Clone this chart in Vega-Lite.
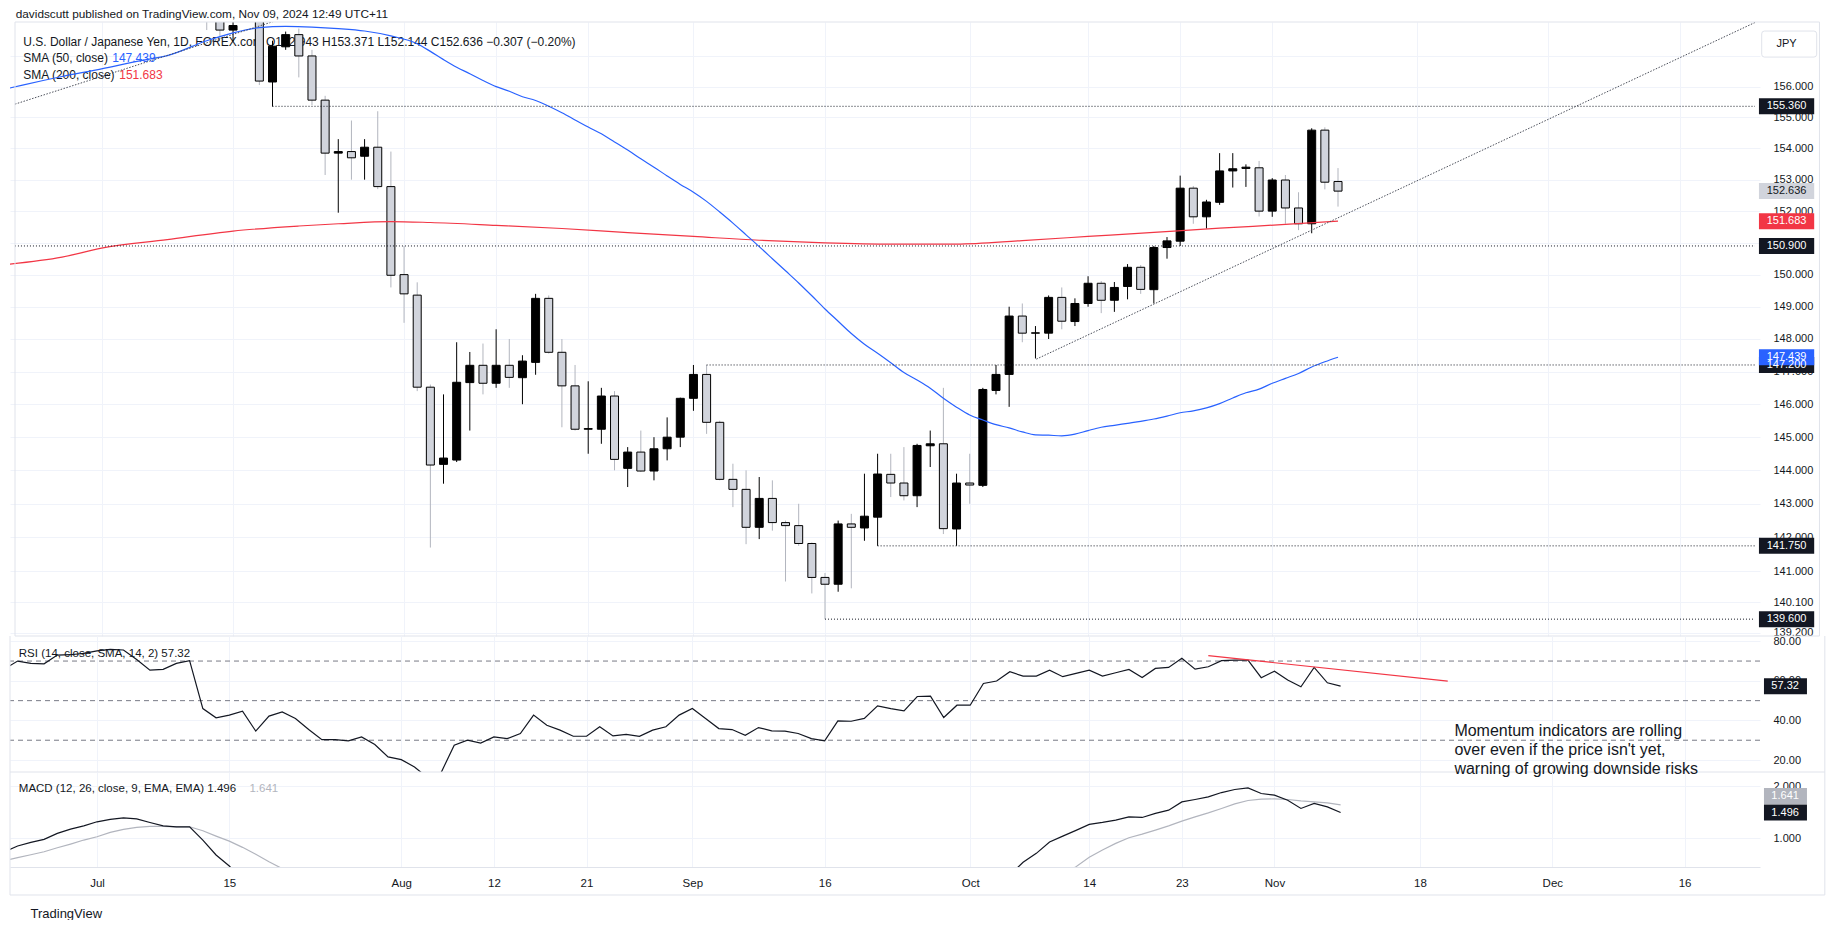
{
  "$schema": "https://vega.github.io/schema/vega-lite/v6.json",
  "background": "#ffffff",
  "padding": {"left": 9, "top": 8, "right": 0, "bottom": 0},
  "autosize": {"type": "pad"},
  "spacing": 0,
  "bounds": "flush",
  "config": {
    "view": {"stroke": null},
    "font": "Liberation Sans",
    "axis": {"zindex": 0, "labelFont": "Liberation Sans", "titleFont": "Liberation Sans"}
  },
  "datasets": {
    "candles": [
      {"i": -6, "d": "2024-06-21", "o": 158.9, "h": 159.9, "l": 158.7, "c": 159.8},
      {"i": -5, "d": "2024-06-24", "o": 159.8, "h": 159.9, "l": 159.3, "c": 159.7},
      {"i": -4, "d": "2024-06-25", "o": 159.7, "h": 159.9, "l": 159.4, "c": 159.75},
      {"i": -3, "d": "2024-06-26", "o": 159.7, "h": 160.9, "l": 159.6, "c": 160.8},
      {"i": -2, "d": "2024-06-27", "o": 160.8, "h": 160.9, "l": 160.3, "c": 160.7},
      {"i": -1, "d": "2024-06-28", "o": 160.7, "h": 161.3, "l": 160.4, "c": 160.9},
      {"i": 0, "d": "2024-07-01", "o": 160.9, "h": 161.7, "l": 160.8, "c": 161.5},
      {"i": 1, "d": "2024-07-02", "o": 161.5, "h": 161.7, "l": 161.2, "c": 161.45},
      {"i": 2, "d": "2024-07-03", "o": 161.45, "h": 161.95, "l": 161.3, "c": 161.4},
      {"i": 3, "d": "2024-07-04", "o": 161.4, "h": 161.5, "l": 161.0, "c": 161.2},
      {"i": 4, "d": "2024-07-05", "o": 161.2, "h": 161.3, "l": 160.2, "c": 160.8},
      {"i": 5, "d": "2024-07-08", "o": 160.75, "h": 161.0, "l": 160.3, "c": 160.8},
      {"i": 6, "d": "2024-07-09", "o": 160.8, "h": 161.3, "l": 160.7, "c": 161.3},
      {"i": 7, "d": "2024-07-10", "o": 161.3, "h": 161.8, "l": 161.2, "c": 161.7},
      {"i": 8, "d": "2024-07-11", "o": 161.7, "h": 161.8, "l": 157.85, "c": 158.9},
      {"i": 9, "d": "2024-07-12", "o": 158.9, "h": 159.4, "l": 157.6, "c": 157.85},
      {"i": 10, "d": "2024-07-15", "o": 157.85, "h": 158.5, "l": 157.47, "c": 158.0},
      {"i": 11, "d": "2024-07-16", "o": 158.2, "h": 158.9, "l": 158.15, "c": 158.4},
      {"i": 12, "d": "2024-07-17", "o": 158.4, "h": 158.6, "l": 156.05, "c": 156.18},
      {"i": 13, "d": "2024-07-18", "o": 156.15, "h": 157.5, "l": 155.35, "c": 157.32},
      {"i": 14, "d": "2024-07-19", "o": 157.3, "h": 157.8, "l": 157.2, "c": 157.7},
      {"i": 15, "d": "2024-07-22", "o": 157.7, "h": 157.9, "l": 156.3, "c": 157.0},
      {"i": 16, "d": "2024-07-23", "o": 157.0, "h": 157.2, "l": 155.4, "c": 155.56},
      {"i": 17, "d": "2024-07-24", "o": 155.56, "h": 155.7, "l": 153.15, "c": 153.85},
      {"i": 18, "d": "2024-07-25", "o": 153.85, "h": 154.3, "l": 151.95, "c": 153.9},
      {"i": 19, "d": "2024-07-26", "o": 153.9, "h": 154.9, "l": 153.0, "c": 153.7},
      {"i": 20, "d": "2024-07-29", "o": 153.75, "h": 154.3, "l": 153.0, "c": 154.04},
      {"i": 21, "d": "2024-07-30", "o": 154.04, "h": 155.2, "l": 152.7, "c": 152.78},
      {"i": 22, "d": "2024-07-31", "o": 152.78, "h": 153.9, "l": 149.6, "c": 149.98},
      {"i": 23, "d": "2024-08-01", "o": 150.0, "h": 150.9, "l": 148.5, "c": 149.4},
      {"i": 24, "d": "2024-08-02", "o": 149.36, "h": 149.76, "l": 146.4, "c": 146.52},
      {"i": 25, "d": "2024-08-05", "o": 146.52, "h": 146.6, "l": 141.7, "c": 144.16},
      {"i": 26, "d": "2024-08-06", "o": 144.18, "h": 146.3, "l": 143.6, "c": 144.37},
      {"i": 27, "d": "2024-08-07", "o": 144.31, "h": 147.9, "l": 144.25, "c": 146.67},
      {"i": 28, "d": "2024-08-08", "o": 146.66, "h": 147.6, "l": 145.2, "c": 147.19},
      {"i": 29, "d": "2024-08-09", "o": 147.19, "h": 147.86, "l": 146.3, "c": 146.64},
      {"i": 30, "d": "2024-08-12", "o": 146.64, "h": 148.3, "l": 146.5, "c": 147.19},
      {"i": 31, "d": "2024-08-13", "o": 147.19, "h": 148.0, "l": 146.5, "c": 146.82},
      {"i": 32, "d": "2024-08-14", "o": 146.81, "h": 147.5, "l": 146.0, "c": 147.32},
      {"i": 33, "d": "2024-08-15", "o": 147.28, "h": 149.4, "l": 146.9, "c": 149.26},
      {"i": 34, "d": "2024-08-16", "o": 149.26, "h": 149.35, "l": 147.55, "c": 147.59},
      {"i": 35, "d": "2024-08-19", "o": 147.59, "h": 148.0, "l": 145.3, "c": 146.56},
      {"i": 36, "d": "2024-08-20", "o": 146.56, "h": 147.2, "l": 145.2, "c": 145.24},
      {"i": 37, "d": "2024-08-21", "o": 145.24, "h": 146.7, "l": 144.5, "c": 145.26},
      {"i": 38, "d": "2024-08-22", "o": 145.24, "h": 146.5, "l": 144.8, "c": 146.25},
      {"i": 39, "d": "2024-08-23", "o": 146.25, "h": 146.4, "l": 144.0, "c": 144.33},
      {"i": 40, "d": "2024-08-26", "o": 144.06, "h": 144.7, "l": 143.5, "c": 144.55},
      {"i": 41, "d": "2024-08-27", "o": 144.55, "h": 145.2, "l": 143.95, "c": 143.98},
      {"i": 42, "d": "2024-08-28", "o": 143.98, "h": 145.0, "l": 143.7, "c": 144.65},
      {"i": 43, "d": "2024-08-29", "o": 144.65, "h": 145.6, "l": 144.3, "c": 145.0},
      {"i": 44, "d": "2024-08-30", "o": 145.0, "h": 146.2, "l": 144.7, "c": 146.18},
      {"i": 45, "d": "2024-09-02", "o": 146.18, "h": 147.2, "l": 145.8, "c": 146.91},
      {"i": 46, "d": "2024-09-03", "o": 146.91, "h": 147.2, "l": 145.1, "c": 145.45},
      {"i": 47, "d": "2024-09-04", "o": 145.45, "h": 145.5, "l": 143.7, "c": 143.73},
      {"i": 48, "d": "2024-09-05", "o": 143.73, "h": 144.2, "l": 142.9, "c": 143.43},
      {"i": 49, "d": "2024-09-06", "o": 143.43, "h": 144.0, "l": 141.8, "c": 142.3},
      {"i": 50, "d": "2024-09-09", "o": 142.3, "h": 143.8, "l": 141.95, "c": 143.16},
      {"i": 51, "d": "2024-09-10", "o": 143.16, "h": 143.7, "l": 142.2, "c": 142.44},
      {"i": 52, "d": "2024-09-11", "o": 142.44, "h": 142.5, "l": 140.7, "c": 142.35},
      {"i": 53, "d": "2024-09-12", "o": 142.35, "h": 143.0, "l": 141.75, "c": 141.82},
      {"i": 54, "d": "2024-09-13", "o": 141.82, "h": 141.85, "l": 140.35, "c": 140.82},
      {"i": 55, "d": "2024-09-16", "o": 140.82, "h": 140.95, "l": 139.6, "c": 140.62},
      {"i": 56, "d": "2024-09-17", "o": 140.62, "h": 142.5, "l": 140.4, "c": 142.4},
      {"i": 57, "d": "2024-09-18", "o": 142.4, "h": 142.7, "l": 140.5, "c": 142.3},
      {"i": 58, "d": "2024-09-19", "o": 142.28, "h": 143.9, "l": 141.9, "c": 142.63},
      {"i": 59, "d": "2024-09-20", "o": 142.6, "h": 144.5, "l": 141.75, "c": 143.89},
      {"i": 60, "d": "2024-09-23", "o": 143.88, "h": 144.5, "l": 143.2, "c": 143.62},
      {"i": 61, "d": "2024-09-24", "o": 143.62, "h": 144.7, "l": 143.1, "c": 143.24},
      {"i": 62, "d": "2024-09-25", "o": 143.24, "h": 144.8, "l": 142.9, "c": 144.75},
      {"i": 63, "d": "2024-09-26", "o": 144.74, "h": 145.2, "l": 144.1, "c": 144.8},
      {"i": 64, "d": "2024-09-27", "o": 144.8, "h": 146.5, "l": 142.1, "c": 142.26},
      {"i": 65, "d": "2024-09-30", "o": 142.25, "h": 143.9, "l": 141.75, "c": 143.62},
      {"i": 66, "d": "2024-10-01", "o": 143.62, "h": 144.5, "l": 143.0, "c": 143.56},
      {"i": 67, "d": "2024-10-02", "o": 143.55, "h": 146.5, "l": 143.5, "c": 146.45},
      {"i": 68, "d": "2024-10-03", "o": 146.42, "h": 147.2, "l": 146.3, "c": 146.91},
      {"i": 69, "d": "2024-10-04", "o": 146.91, "h": 149.0, "l": 145.92, "c": 148.71},
      {"i": 70, "d": "2024-10-07", "o": 148.71, "h": 149.1, "l": 147.9, "c": 148.18},
      {"i": 71, "d": "2024-10-08", "o": 148.18, "h": 148.4, "l": 147.4, "c": 148.19},
      {"i": 72, "d": "2024-10-09", "o": 148.18, "h": 149.35, "l": 148.0, "c": 149.29},
      {"i": 73, "d": "2024-10-10", "o": 149.29, "h": 149.6, "l": 148.3, "c": 148.55},
      {"i": 74, "d": "2024-10-11", "o": 148.54, "h": 149.26, "l": 148.4, "c": 149.1},
      {"i": 75, "d": "2024-10-14", "o": 149.1, "h": 149.95, "l": 149.0, "c": 149.73},
      {"i": 76, "d": "2024-10-15", "o": 149.73, "h": 149.8, "l": 148.8, "c": 149.2},
      {"i": 77, "d": "2024-10-16", "o": 149.2, "h": 149.77, "l": 148.84, "c": 149.6},
      {"i": 78, "d": "2024-10-17", "o": 149.63, "h": 150.33, "l": 149.23, "c": 150.23},
      {"i": 79, "d": "2024-10-18", "o": 150.23, "h": 150.3, "l": 149.4, "c": 149.54},
      {"i": 80, "d": "2024-10-21", "o": 149.53, "h": 150.9, "l": 149.1, "c": 150.85},
      {"i": 81, "d": "2024-10-22", "o": 150.85, "h": 151.18, "l": 150.5, "c": 151.06},
      {"i": 82, "d": "2024-10-23", "o": 151.05, "h": 153.13, "l": 150.9, "c": 152.73},
      {"i": 83, "d": "2024-10-24", "o": 152.73, "h": 152.8, "l": 151.6, "c": 151.82},
      {"i": 84, "d": "2024-10-25", "o": 151.82, "h": 152.36, "l": 151.45, "c": 152.29},
      {"i": 85, "d": "2024-10-28", "o": 152.28, "h": 153.85, "l": 152.2, "c": 153.28},
      {"i": 86, "d": "2024-10-29", "o": 153.28, "h": 153.85, "l": 152.75, "c": 153.35},
      {"i": 87, "d": "2024-10-30", "o": 153.36, "h": 153.49, "l": 152.77, "c": 153.4},
      {"i": 88, "d": "2024-10-31", "o": 153.38, "h": 153.6, "l": 151.83, "c": 152.0},
      {"i": 89, "d": "2024-11-01", "o": 152.0, "h": 153.05, "l": 151.82, "c": 152.99},
      {"i": 90, "d": "2024-11-04", "o": 152.99, "h": 153.15, "l": 151.6, "c": 152.1},
      {"i": 91, "d": "2024-11-05", "o": 152.1, "h": 152.6, "l": 151.4, "c": 151.6},
      {"i": 92, "d": "2024-11-06", "o": 151.6, "h": 154.65, "l": 151.3, "c": 154.59},
      {"i": 93, "d": "2024-11-07", "o": 154.59, "h": 154.68, "l": 152.69, "c": 152.92},
      {"i": 94, "d": "2024-11-08", "o": 152.943, "h": 153.371, "l": 152.144, "c": 152.636}
    ],
    "sma200": [
      {"i": -7, "v": 150.33}, {"i": -3, "v": 150.55}, {"i": 0, "v": 150.83}, {"i": 5, "v": 151.1},
      {"i": 10, "v": 151.37}, {"i": 15, "v": 151.53}, {"i": 18, "v": 151.6}, {"i": 22, "v": 151.67},
      {"i": 25, "v": 151.64}, {"i": 30, "v": 151.55}, {"i": 35, "v": 151.45}, {"i": 40, "v": 151.32},
      {"i": 45, "v": 151.2}, {"i": 50, "v": 151.08}, {"i": 55, "v": 151.0}, {"i": 60, "v": 150.96},
      {"i": 65, "v": 150.96}, {"i": 70, "v": 151.07}, {"i": 75, "v": 151.2}, {"i": 80, "v": 151.33},
      {"i": 85, "v": 151.46}, {"i": 90, "v": 151.58}, {"i": 94, "v": 151.683}
    ],
    "sma50": [
      {"i": -7, "v": 155.95}, {"i": -6, "v": 156.05}, {"i": -3, "v": 156.33}, {"i": 0, "v": 156.58},
      {"i": 3, "v": 156.85}, {"i": 5, "v": 157.01}, {"i": 8, "v": 157.5}, {"i": 10, "v": 157.76},
      {"i": 12, "v": 157.93}, {"i": 14, "v": 157.97}, {"i": 16, "v": 157.95}, {"i": 18, "v": 157.9},
      {"i": 20, "v": 157.82}, {"i": 22, "v": 157.66}, {"i": 24, "v": 157.4}, {"i": 25, "v": 157.15},
      {"i": 26, "v": 156.88}, {"i": 27, "v": 156.63}, {"i": 28, "v": 156.42}, {"i": 29, "v": 156.2},
      {"i": 30, "v": 156.0}, {"i": 31, "v": 155.85}, {"i": 32, "v": 155.67}, {"i": 33, "v": 155.55},
      {"i": 34, "v": 155.36}, {"i": 35, "v": 155.15}, {"i": 36, "v": 154.92}, {"i": 37, "v": 154.69},
      {"i": 38, "v": 154.47}, {"i": 39, "v": 154.21}, {"i": 40, "v": 153.95}, {"i": 41, "v": 153.67},
      {"i": 42, "v": 153.4}, {"i": 43, "v": 153.12}, {"i": 44, "v": 152.85}, {"i": 45, "v": 152.6},
      {"i": 46, "v": 152.31}, {"i": 47, "v": 151.97}, {"i": 48, "v": 151.62}, {"i": 49, "v": 151.25},
      {"i": 50, "v": 150.88}, {"i": 51, "v": 150.5}, {"i": 52, "v": 150.12}, {"i": 53, "v": 149.74},
      {"i": 54, "v": 149.34}, {"i": 55, "v": 148.93}, {"i": 56, "v": 148.55}, {"i": 57, "v": 148.17},
      {"i": 58, "v": 147.84}, {"i": 59, "v": 147.56}, {"i": 60, "v": 147.27}, {"i": 61, "v": 146.97},
      {"i": 62, "v": 146.74}, {"i": 63, "v": 146.49}, {"i": 64, "v": 146.18}, {"i": 65, "v": 145.91},
      {"i": 66, "v": 145.67}, {"i": 67, "v": 145.52}, {"i": 68, "v": 145.38}, {"i": 69, "v": 145.28},
      {"i": 70, "v": 145.16}, {"i": 71, "v": 145.07}, {"i": 72, "v": 145.06}, {"i": 73, "v": 145.04},
      {"i": 74, "v": 145.09}, {"i": 75, "v": 145.2}, {"i": 76, "v": 145.3}, {"i": 77, "v": 145.36},
      {"i": 78, "v": 145.42}, {"i": 79, "v": 145.48}, {"i": 80, "v": 145.55}, {"i": 81, "v": 145.64},
      {"i": 82, "v": 145.74}, {"i": 83, "v": 145.8}, {"i": 84, "v": 145.89}, {"i": 85, "v": 146.02},
      {"i": 86, "v": 146.19}, {"i": 87, "v": 146.35}, {"i": 88, "v": 146.46}, {"i": 89, "v": 146.64},
      {"i": 90, "v": 146.79}, {"i": 91, "v": 146.94}, {"i": 92, "v": 147.14}, {"i": 93, "v": 147.3},
      {"i": 94, "v": 147.439}
    ],
    "rays": [
      {"from": 13, "p": 155.36}, {"from": -6.58, "p": 150.9}, {"from": 46, "p": 147.2},
      {"from": 59, "p": 141.75}, {"from": 55, "p": 139.6}
    ],
    "trends": [
      {"x1": -6.58, "p1": 155.43, "x2": 14.06, "p2": 158.27},
      {"x1": 71.07, "p1": 147.38, "x2": 125.7, "p2": 158.1}
    ],
    "plabels": [
      {"v": 147.2, "k": "level"}, {"v": 155.36, "k": "level"}, {"v": 150.9, "k": "level"},
      {"v": 141.75, "k": "level"}, {"v": 139.6, "k": "level"}, {"v": 152.636, "k": "last"},
      {"v": 151.683, "k": "sma200"}, {"v": 147.439, "k": "sma50"}
    ],
    "rsi": [
      {"i": -7, "v": 66.0}, {"i": -6, "v": 70.0}, {"i": -5, "v": 68.8}, {"i": -4, "v": 68.6},
      {"i": -3, "v": 73.0}, {"i": -2, "v": 73.2}, {"i": -1, "v": 73.9}, {"i": 0, "v": 75.1},
      {"i": 1, "v": 75.9}, {"i": 2, "v": 75.6}, {"i": 3, "v": 70.8}, {"i": 4, "v": 65.4},
      {"i": 5, "v": 65.8}, {"i": 6, "v": 68.8}, {"i": 7, "v": 70.2}, {"i": 8, "v": 46.0},
      {"i": 9, "v": 41.3}, {"i": 10, "v": 42.7}, {"i": 11, "v": 44.7}, {"i": 12, "v": 34.6},
      {"i": 13, "v": 42.2}, {"i": 14, "v": 44.3}, {"i": 15, "v": 41.0}, {"i": 16, "v": 35.4},
      {"i": 17, "v": 30.3}, {"i": 18, "v": 30.3}, {"i": 19, "v": 29.7}, {"i": 20, "v": 31.7},
      {"i": 21, "v": 27.8}, {"i": 22, "v": 21.6}, {"i": 23, "v": 20.2}, {"i": 24, "v": 16.5},
      {"i": 25, "v": 11.0}, {"i": 26, "v": 13.5}, {"i": 27, "v": 27.5}, {"i": 28, "v": 30.0},
      {"i": 29, "v": 28.6}, {"i": 30, "v": 31.7}, {"i": 31, "v": 30.8}, {"i": 32, "v": 33.4},
      {"i": 33, "v": 42.7}, {"i": 34, "v": 37.6}, {"i": 35, "v": 35.1}, {"i": 36, "v": 32.0},
      {"i": 37, "v": 32.0}, {"i": 38, "v": 36.8}, {"i": 39, "v": 32.2}, {"i": 40, "v": 33.0},
      {"i": 41, "v": 32.0}, {"i": 42, "v": 35.1}, {"i": 43, "v": 36.8}, {"i": 44, "v": 42.7},
      {"i": 45, "v": 46.0}, {"i": 46, "v": 41.0}, {"i": 47, "v": 35.9}, {"i": 48, "v": 35.4},
      {"i": 49, "v": 32.5}, {"i": 50, "v": 36.4}, {"i": 51, "v": 34.7}, {"i": 52, "v": 34.6},
      {"i": 53, "v": 33.4}, {"i": 54, "v": 30.8}, {"i": 55, "v": 29.7}, {"i": 56, "v": 39.8},
      {"i": 57, "v": 39.6}, {"i": 58, "v": 41.0}, {"i": 59, "v": 47.4}, {"i": 60, "v": 46.0},
      {"i": 61, "v": 44.8}, {"i": 62, "v": 52.1}, {"i": 63, "v": 52.3}, {"i": 64, "v": 41.5},
      {"i": 65, "v": 47.7}, {"i": 66, "v": 47.7}, {"i": 67, "v": 58.7}, {"i": 68, "v": 59.9},
      {"i": 69, "v": 64.6}, {"i": 70, "v": 62.4}, {"i": 71, "v": 62.4}, {"i": 72, "v": 65.4},
      {"i": 73, "v": 62.1}, {"i": 74, "v": 63.8}, {"i": 75, "v": 65.4}, {"i": 76, "v": 62.4},
      {"i": 77, "v": 64.1}, {"i": 78, "v": 65.8}, {"i": 79, "v": 61.7}, {"i": 80, "v": 66.3},
      {"i": 81, "v": 66.8}, {"i": 82, "v": 71.4}, {"i": 83, "v": 65.9}, {"i": 84, "v": 67.1},
      {"i": 85, "v": 70.2}, {"i": 86, "v": 70.5}, {"i": 87, "v": 70.5}, {"i": 88, "v": 61.6},
      {"i": 89, "v": 64.9}, {"i": 90, "v": 60.4}, {"i": 91, "v": 57.0}, {"i": 92, "v": 66.8},
      {"i": 93, "v": 59.0}, {"i": 94, "v": 57.32}
    ],
    "macd": [
      {"seg": "a", "i": -7, "v": 0.74}, {"seg": "a", "i": -6, "v": 0.853}, {"seg": "a", "i": -5, "v": 0.923},
      {"seg": "a", "i": -4, "v": 0.98}, {"seg": "a", "i": -3, "v": 1.096}, {"seg": "a", "i": -2, "v": 1.178},
      {"seg": "a", "i": -1, "v": 1.241}, {"seg": "a", "i": 0, "v": 1.318}, {"seg": "a", "i": 1, "v": 1.363},
      {"seg": "a", "i": 2, "v": 1.394}, {"seg": "a", "i": 3, "v": 1.375}, {"seg": "a", "i": 4, "v": 1.305},
      {"seg": "a", "i": 5, "v": 1.241}, {"seg": "a", "i": 6, "v": 1.222}, {"seg": "a", "i": 7, "v": 1.222},
      {"seg": "a", "i": 8, "v": 0.968}, {"seg": "a", "i": 9, "v": 0.681}, {"seg": "a", "i": 10, "v": 0.47},
      {"seg": "a", "i": 11, "v": 0.2},
      {"seg": "b", "i": 69, "v": 0.3}, {"seg": "b", "i": 70, "v": 0.541}, {"seg": "b", "i": 71, "v": 0.713},
      {"seg": "b", "i": 72, "v": 0.929}, {"seg": "b", "i": 73, "v": 1.044}, {"seg": "b", "i": 74, "v": 1.153},
      {"seg": "b", "i": 75, "v": 1.268}, {"seg": "b", "i": 76, "v": 1.306}, {"seg": "b", "i": 77, "v": 1.35},
      {"seg": "b", "i": 78, "v": 1.413}, {"seg": "b", "i": 79, "v": 1.401}, {"seg": "b", "i": 80, "v": 1.478},
      {"seg": "b", "i": 81, "v": 1.541}, {"seg": "b", "i": 82, "v": 1.7}, {"seg": "b", "i": 83, "v": 1.746},
      {"seg": "b", "i": 84, "v": 1.796}, {"seg": "b", "i": 85, "v": 1.879}, {"seg": "b", "i": 86, "v": 1.937},
      {"seg": "b", "i": 87, "v": 1.968}, {"seg": "b", "i": 88, "v": 1.86}, {"seg": "b", "i": 89, "v": 1.828},
      {"seg": "b", "i": 90, "v": 1.732}, {"seg": "b", "i": 91, "v": 1.574}, {"seg": "b", "i": 92, "v": 1.669},
      {"seg": "b", "i": 93, "v": 1.604}, {"seg": "b", "i": 94, "v": 1.496}
    ],
    "signal": [
      {"seg": "a", "i": -7, "v": 0.57}, {"seg": "a", "i": -6, "v": 0.63}, {"seg": "a", "i": -5, "v": 0.686},
      {"seg": "a", "i": -4, "v": 0.744}, {"seg": "a", "i": -3, "v": 0.82}, {"seg": "a", "i": -2, "v": 0.891},
      {"seg": "a", "i": -1, "v": 0.968}, {"seg": "a", "i": 0, "v": 1.031}, {"seg": "a", "i": 1, "v": 1.115},
      {"seg": "a", "i": 2, "v": 1.172}, {"seg": "a", "i": 3, "v": 1.21}, {"seg": "a", "i": 4, "v": 1.229},
      {"seg": "a", "i": 5, "v": 1.229}, {"seg": "a", "i": 6, "v": 1.222}, {"seg": "a", "i": 7, "v": 1.222},
      {"seg": "a", "i": 8, "v": 1.146}, {"seg": "a", "i": 9, "v": 1.044}, {"seg": "a", "i": 10, "v": 0.948},
      {"seg": "a", "i": 11, "v": 0.828}, {"seg": "a", "i": 12, "v": 0.694}, {"seg": "a", "i": 13, "v": 0.553},
      {"seg": "a", "i": 14, "v": 0.42}, {"seg": "a", "i": 15, "v": 0.3},
      {"seg": "b", "i": 73, "v": 0.3}, {"seg": "b", "i": 74, "v": 0.457}, {"seg": "b", "i": 75, "v": 0.637},
      {"seg": "b", "i": 76, "v": 0.776}, {"seg": "b", "i": 77, "v": 0.904}, {"seg": "b", "i": 78, "v": 1.012},
      {"seg": "b", "i": 79, "v": 1.082}, {"seg": "b", "i": 80, "v": 1.159}, {"seg": "b", "i": 81, "v": 1.241},
      {"seg": "b", "i": 82, "v": 1.331}, {"seg": "b", "i": 83, "v": 1.413}, {"seg": "b", "i": 84, "v": 1.49},
      {"seg": "b", "i": 85, "v": 1.574}, {"seg": "b", "i": 86, "v": 1.662}, {"seg": "b", "i": 87, "v": 1.727},
      {"seg": "b", "i": 88, "v": 1.751}, {"seg": "b", "i": 89, "v": 1.757}, {"seg": "b", "i": 90, "v": 1.746},
      {"seg": "b", "i": 91, "v": 1.719}, {"seg": "b", "i": 92, "v": 1.7}, {"seg": "b", "i": 93, "v": 1.681},
      {"seg": "b", "i": 94, "v": 1.641}
    ]
  },
  "vconcat": [
    {
      "width": 1750,
      "height": 614,
      "layer": [
        {
          "data": {"values": [{"t": "U.S. Dollar / Japanese Yen, 1D, FOREX.com  O152.943  H153.371  L152.144  C152.636  \u22120.307 (\u22120.20%)"}]},
          "mark": {"type": "text", "align": "left", "baseline": "alphabetic", "fontSize": 12, "color": "#131722"},
          "encoding": {
            "text": {"field": "t"},
            "x": {"datum": -5.95, "scale": {"domain": [-6.576, 125.7], "nice": false, "zero": false}},
            "y": {"datum": 157.34, "scale": {"type": "log", "domain": [139.11, 158.116], "nice": false}}
          }
        },
        {
          "data": {"values": [{"t": "SMA (50, close)", "val": "147.439"}]},
          "mark": {"type": "text", "align": "left", "baseline": "alphabetic", "fontSize": 12, "color": "#131722"},
          "encoding": {
            "text": {"field": "t"},
            "x": {"datum": -5.95, "scale": {"domain": [-6.576, 125.7], "nice": false, "zero": false}},
            "y": {"datum": 156.81, "scale": {"type": "log", "domain": [139.11, 158.116], "nice": false}}
          }
        },
        {
          "data": {"values": [{"t": "SMA (50, close)", "val": "147.439"}]},
          "mark": {"type": "text", "align": "left", "baseline": "alphabetic", "fontSize": 12, "color": "#2962ff", "dx": 89},
          "encoding": {
            "text": {"field": "val"},
            "x": {"datum": -5.95, "scale": {"domain": [-6.576, 125.7], "nice": false, "zero": false}},
            "y": {"datum": 156.81, "scale": {"type": "log", "domain": [139.11, 158.116], "nice": false}}
          }
        },
        {
          "data": {"values": [{"t": "SMA (200, close)", "val": "151.683"}]},
          "mark": {"type": "text", "align": "left", "baseline": "alphabetic", "fontSize": 12, "color": "#131722"},
          "encoding": {
            "text": {"field": "t"},
            "x": {"datum": -5.95, "scale": {"domain": [-6.576, 125.7], "nice": false, "zero": false}},
            "y": {"datum": 156.25, "scale": {"type": "log", "domain": [139.11, 158.116], "nice": false}}
          }
        },
        {
          "data": {"values": [{"t": "SMA (200, close)", "val": "151.683"}]},
          "mark": {"type": "text", "align": "left", "baseline": "alphabetic", "fontSize": 12, "color": "#f23645", "dx": 96},
          "encoding": {
            "text": {"field": "val"},
            "x": {"datum": -5.95, "scale": {"domain": [-6.576, 125.7], "nice": false, "zero": false}},
            "y": {"datum": 156.25, "scale": {"type": "log", "domain": [139.11, 158.116], "nice": false}}
          }
        },
        {
          "data": {"name": "candles"},
          "mark": {"type": "rule", "clip": true, "strokeWidth": 1},
          "encoding": {
            "x": {"field": "i", "type": "quantitative", "title": null,
              "scale": {"domain": [-6.576, 125.7], "nice": false, "zero": false},
              "axis": {"orient": "bottom", "values": [0, 10, 23, 30, 37, 45, 55, 66, 75, 82, 89, 100, 110, 120], "labels": false, "ticks": false, "domain": false, "grid": true, "gridColor": "#f0f3fa", "title": null}},
            "y": {"field": "l", "type": "quantitative", "title": null,
              "scale": {"type": "log", "domain": [139.11, 158.116], "nice": false},
              "axis": {"orient": "right", "values": [139.2, 140.1, 141, 142, 143, 144, 145, 146, 147, 148, 149, 150, 151, 152, 153, 154, 155, 156, 157], "format": ".3f", "labelExpr": "datum.value == 157 ? '' : datum.label", "grid": true, "gridColor": "#f0f3fa", "domain": false, "ticks": false, "labelPadding": 13, "labelFontSize": 11, "labelColor": "#131722", "labelOverlap": false, "labelFlush": false, "title": null}},
            "y2": {"field": "h"},
            "color": {"condition": {"test": "datum.c >= datum.o", "value": "#000000"}, "value": "#b2b5be"}
          }
        },
        {
          "data": {"name": "candles"},
          "mark": {"type": "bar", "clip": true, "size": 8, "stroke": "#000000", "strokeWidth": 1},
          "encoding": {
            "x": {"field": "i", "type": "quantitative", "title": null, "scale": {"domain": [-6.576, 125.7], "nice": false, "zero": false}},
            "y": {"field": "o", "type": "quantitative", "title": null, "scale": {"type": "log", "domain": [139.11, 158.116], "nice": false}},
            "y2": {"field": "c"},
            "color": {"condition": {"test": "datum.c >= datum.o", "value": "#000000"}, "value": "#d1d4dc"}
          }
        },
        {
          "data": {"name": "sma200"},
          "mark": {"type": "line", "clip": true, "color": "#f23645", "strokeWidth": 1.2, "interpolate": "monotone"},
          "encoding": {
            "x": {"field": "i", "type": "quantitative", "title": null, "scale": {"domain": [-6.576, 125.7], "nice": false, "zero": false}},
            "y": {"field": "v", "type": "quantitative", "title": null, "scale": {"type": "log", "domain": [139.11, 158.116], "nice": false}}
          }
        },
        {
          "data": {"name": "sma50"},
          "mark": {"type": "line", "clip": true, "color": "#2962ff", "strokeWidth": 1.2, "interpolate": "monotone"},
          "encoding": {
            "x": {"field": "i", "type": "quantitative", "title": null, "scale": {"domain": [-6.576, 125.7], "nice": false, "zero": false}},
            "y": {"field": "v", "type": "quantitative", "title": null, "scale": {"type": "log", "domain": [139.11, 158.116], "nice": false}}
          }
        },
        {
          "data": {"name": "rays"},
          "mark": {"type": "rule", "clip": true, "color": "#131722", "strokeDash": [1, 2], "strokeWidth": 1},
          "encoding": {
            "x": {"field": "from", "type": "quantitative", "title": null, "scale": {"domain": [-6.576, 125.7], "nice": false, "zero": false}},
            "x2": {"datum": 125.7},
            "y": {"field": "p", "type": "quantitative", "title": null, "scale": {"type": "log", "domain": [139.11, 158.116], "nice": false}}
          }
        },
        {
          "data": {"name": "trends"},
          "mark": {"type": "rule", "clip": true, "color": "#4a4e59", "strokeDash": [1.5, 1.5], "strokeWidth": 1},
          "encoding": {
            "x": {"field": "x1", "type": "quantitative", "title": null, "scale": {"domain": [-6.576, 125.7], "nice": false, "zero": false}},
            "x2": {"field": "x2"},
            "y": {"field": "p1", "type": "quantitative", "title": null, "scale": {"type": "log", "domain": [139.11, 158.116], "nice": false}},
            "y2": {"field": "p2"}
          }
        },
        {
          "data": {"values": [{"f": "left"}]},
          "mark": {"type": "rule", "color": "#e0e3eb", "strokeWidth": 1},
          "encoding": {
            "x": {"datum": -6.576, "scale": {"domain": [-6.576, 125.7], "nice": false, "zero": false}}
          }
        },
        {
          "data": {"values": [{"f": "right"}]},
          "mark": {"type": "rule", "color": "#e0e3eb", "strokeWidth": 1},
          "encoding": {
            "x": {"datum": 130.6, "scale": {"domain": [-6.576, 125.7], "nice": false, "zero": false}}
          }
        },
        {
          "data": {"values": [{"f": "top", "p": 158.116}, {"f": "bottom", "p": 139.11}]},
          "mark": {"type": "rule", "color": "#e0e3eb", "strokeWidth": 1},
          "encoding": {
            "x": {"datum": -6.576, "scale": {"domain": [-6.576, 125.7], "nice": false, "zero": false}},
            "x2": {"datum": 130.6},
            "y": {"field": "p", "type": "quantitative", "title": null, "scale": {"type": "log", "domain": [139.11, 158.116], "nice": false}}
          }
        },
        {
          "data": {"name": "plabels"},
          "mark": {"type": "rule", "strokeWidth": 16, "strokeCap": "butt"},
          "encoding": {
            "x": {"datum": 126.0, "scale": {"domain": [-6.576, 125.7], "nice": false, "zero": false}},
            "x2": {"datum": 130.2},
            "y": {"field": "v", "type": "quantitative", "title": null, "scale": {"type": "log", "domain": [139.11, 158.116], "nice": false}},
            "color": {"condition": [
              {"test": "datum.k == 'last'", "value": "#d1d4dc"},
              {"test": "datum.k == 'sma200'", "value": "#f23645"},
              {"test": "datum.k == 'sma50'", "value": "#2962ff"}
            ], "value": "#131722"}
          }
        },
        {
          "data": {"name": "plabels"},
          "mark": {"type": "text", "align": "center", "baseline": "middle", "fontSize": 11},
          "encoding": {
            "x": {"datum": 128.1, "scale": {"domain": [-6.576, 125.7], "nice": false, "zero": false}},
            "y": {"field": "v", "type": "quantitative", "title": null, "scale": {"type": "log", "domain": [139.11, 158.116], "nice": false}},
            "text": {"field": "v", "type": "quantitative", "format": ".3f"},
            "color": {"condition": {"test": "datum.k == 'last'", "value": "#131722"}, "value": "#ffffff"}
          }
        },
        {
          "data": {"values": [{"t": "JPY"}]},
          "mark": {"type": "point", "filled": true, "fill": "#ffffff", "stroke": "#e0e3eb", "strokeWidth": 1, "opacity": 1,
            "shape": "M-0.9,-0.473Q-1,-0.473,-1,-0.37L-1,0.37Q-1,0.473,-0.9,0.473L0.9,0.473Q1,0.473,1,0.37L1,-0.37Q1,-0.473,0.9,-0.473Z",
            "size": 3025},
          "encoding": {
            "x": {"datum": 128.3, "scale": {"domain": [-6.576, 125.7], "nice": false, "zero": false}},
            "y": {"datum": 157.39, "scale": {"type": "log", "domain": [139.11, 158.116], "nice": false}}
          }
        },
        {
          "data": {"values": [{"t": "JPY"}]},
          "mark": {"type": "text", "align": "center", "baseline": "middle", "fontSize": 11, "color": "#131722"},
          "encoding": {
            "text": {"field": "t"},
            "x": {"datum": 128.1, "scale": {"domain": [-6.576, 125.7], "nice": false, "zero": false}},
            "y": {"datum": 157.39, "scale": {"type": "log", "domain": [139.11, 158.116], "nice": false}}
          }
        },
        {
          "data": {"values": [{"t": "davidscutt published on TradingView.com, Nov 09, 2024 12:49 UTC+11"}]},
          "mark": {"type": "text", "align": "left", "baseline": "alphabetic", "fontSize": 11.8, "color": "#131722"},
          "encoding": {
            "text": {"field": "t"},
            "x": {"datum": -6.52, "scale": {"domain": [-6.576, 125.7], "nice": false, "zero": false}},
            "y": {"datum": 158.26, "scale": {"type": "log", "domain": [139.11, 158.116], "nice": false}}
          }
        }
      ]
    },
    {
      "width": 1750,
      "height": 136,
      "layer": [
        {
          "data": {"values": [{"lv": 70}, {"lv": 50}, {"lv": 30}]},
          "mark": {"type": "rule", "color": "#787b86", "strokeDash": [5, 4], "strokeWidth": 1},
          "encoding": {
            "y": {"field": "lv", "type": "quantitative", "title": null,
              "scale": {"domain": [13.95, 82.66], "nice": false, "zero": false},
              "axis": {"orient": "right", "values": [20, 40, 60, 80], "format": ".2f", "grid": true, "gridColor": "#f0f3fa", "domain": false, "ticks": false, "labelPadding": 13, "labelFontSize": 11, "labelColor": "#131722", "labelOverlap": false, "labelFlush": false, "title": null}}
          }
        },
        {
          "data": {"name": "rsi"},
          "mark": {"type": "line", "clip": true, "color": "#131722", "strokeWidth": 1.2},
          "encoding": {
            "x": {"field": "i", "type": "quantitative", "title": null,
              "scale": {"domain": [-6.576, 125.7], "nice": false, "zero": false},
              "axis": {"orient": "bottom", "values": [0, 10, 23, 30, 37, 45, 55, 66, 75, 82, 89, 100, 110, 120], "labels": false, "ticks": false, "domain": false, "grid": true, "gridColor": "#f0f3fa", "title": null}},
            "y": {"field": "v", "type": "quantitative", "title": null, "scale": {"domain": [13.95, 82.66], "nice": false, "zero": false}}
          }
        },
        {
          "data": {"values": [{"x1": 84.0, "v1": 72.7, "x2": 102.1, "v2": 59.9}]},
          "mark": {"type": "rule", "clip": true, "color": "#f23645", "strokeWidth": 1.2},
          "encoding": {
            "x": {"field": "x1", "type": "quantitative", "title": null, "scale": {"domain": [-6.576, 125.7], "nice": false, "zero": false}},
            "x2": {"field": "x2"},
            "y": {"field": "v1", "type": "quantitative", "title": null, "scale": {"domain": [13.95, 82.66], "nice": false, "zero": false}},
            "y2": {"field": "v2"}
          }
        },
        {
          "data": {"values": [{"f": "left"}]},
          "mark": {"type": "rule", "color": "#e0e3eb", "strokeWidth": 1},
          "encoding": {
            "x": {"datum": -6.576, "scale": {"domain": [-6.576, 125.7], "nice": false, "zero": false}}
          }
        },
        {
          "data": {"values": [{"f": "right"}]},
          "mark": {"type": "rule", "color": "#e0e3eb", "strokeWidth": 1},
          "encoding": {
            "x": {"datum": 130.6, "scale": {"domain": [-6.576, 125.7], "nice": false, "zero": false}}
          }
        },
        {
          "data": {"values": [{"f": "bottom", "p": 13.95}]},
          "mark": {"type": "rule", "color": "#e0e3eb", "strokeWidth": 1},
          "encoding": {
            "x": {"datum": -6.576, "scale": {"domain": [-6.576, 125.7], "nice": false, "zero": false}},
            "x2": {"datum": 130.6},
            "y": {"field": "p", "type": "quantitative", "title": null, "scale": {"domain": [13.95, 82.66], "nice": false, "zero": false}}
          }
        },
        {
          "data": {"values": [{"t": "RSI (14, close, SMA, 14, 2)  57.32"}]},
          "mark": {"type": "text", "align": "left", "baseline": "alphabetic", "fontSize": 11.5, "color": "#131722"},
          "encoding": {
            "text": {"field": "t"},
            "x": {"datum": -5.91, "scale": {"domain": [-6.576, 125.7], "nice": false, "zero": false}},
            "y": {"datum": 72.0, "scale": {"domain": [13.95, 82.66], "nice": false, "zero": false}}
          }
        },
        {
          "data": {"values": [{"t": "note"}]},
          "mark": {"type": "text", "align": "left", "baseline": "alphabetic", "fontSize": 16, "lineHeight": 19.3, "color": "#131722",
            "text": ["Momentum indicators are rolling", "over even if the price isn't yet,", "warning of growing downside risks"]},
          "encoding": {
            "x": {"datum": 102.6, "scale": {"domain": [-6.576, 125.7], "nice": false, "zero": false}},
            "y": {"datum": 32.2, "scale": {"domain": [13.95, 82.66], "nice": false, "zero": false}}
          }
        },
        {
          "data": {"values": [{"v": 57.32}]},
          "mark": {"type": "rule", "strokeWidth": 16, "strokeCap": "butt", "color": "#131722"},
          "encoding": {
            "x": {"datum": 126.0, "scale": {"domain": [-6.576, 125.7], "nice": false, "zero": false}},
            "x2": {"datum": 129.25},
            "y": {"field": "v", "type": "quantitative", "title": null, "scale": {"domain": [13.95, 82.66], "nice": false, "zero": false}}
          }
        },
        {
          "data": {"values": [{"v": 57.32}]},
          "mark": {"type": "text", "align": "center", "baseline": "middle", "fontSize": 11, "color": "#ffffff"},
          "encoding": {
            "x": {"datum": 127.6, "scale": {"domain": [-6.576, 125.7], "nice": false, "zero": false}},
            "y": {"field": "v", "type": "quantitative", "title": null, "scale": {"domain": [13.95, 82.66], "nice": false, "zero": false}},
            "text": {"field": "v", "type": "quantitative", "format": ".2f"}
          }
        }
      ]
    },
    {
      "width": 1750,
      "height": 95,
      "layer": [
        {
          "data": {"name": "signal"},
          "mark": {"type": "line", "clip": true, "color": "#b2b5be", "strokeWidth": 1.2},
          "encoding": {
            "x": {"field": "i", "type": "quantitative",
              "scale": {"domain": [-6.576, 125.7], "nice": false, "zero": false},
              "axis": {"orient": "bottom", "values": [0, 10, 23, 30, 37, 45, 55, 66, 75, 82, 89, 100, 110, 120],
                "labelExpr": "datum.value == 0 ? 'Jul' : datum.value == 10 ? '15' : datum.value == 23 ? 'Aug' : datum.value == 30 ? '12' : datum.value == 37 ? '21' : datum.value == 45 ? 'Sep' : datum.value == 55 ? '16' : datum.value == 66 ? 'Oct' : datum.value == 75 ? '14' : datum.value == 82 ? '23' : datum.value == 89 ? 'Nov' : datum.value == 100 ? '18' : datum.value == 110 ? 'Dec' : '16'",
                "labels": true, "ticks": false, "domain": true, "domainColor": "#e0e3eb", "grid": true, "gridColor": "#f0f3fa",
                "labelPadding": 10, "labelFontSize": 11.5, "labelColor": "#131722", "labelOverlap": false, "labelFlush": false,
                "title": "TradingView", "titleFontSize": 13, "titleFontWeight": "normal", "titleColor": "#131722",
                "titleX": 20, "titleY": 46, "titleAlign": "left", "titleBaseline": "middle", "titleAnchor": "start"}},
            "y": {"field": "v", "type": "quantitative", "title": null,
              "scale": {"domain": [0.451, 2.273], "nice": false, "zero": false},
              "axis": {"orient": "right", "values": [1, 2], "format": ".3f", "grid": true, "gridColor": "#f0f3fa", "domain": false, "ticks": false, "labelPadding": 13, "labelFontSize": 11, "labelColor": "#131722", "labelOverlap": false, "labelFlush": false, "title": null}},
            "detail": {"field": "seg"}
          }
        },
        {
          "data": {"name": "macd"},
          "mark": {"type": "line", "clip": true, "color": "#131722", "strokeWidth": 1.2},
          "encoding": {
            "x": {"field": "i", "type": "quantitative", "scale": {"domain": [-6.576, 125.7], "nice": false, "zero": false}},
            "y": {"field": "v", "type": "quantitative", "title": null, "scale": {"domain": [0.451, 2.273], "nice": false, "zero": false}},
            "detail": {"field": "seg"}
          }
        },
        {
          "data": {"values": [{"f": "left"}]},
          "mark": {"type": "rule", "color": "#e0e3eb", "strokeWidth": 1},
          "encoding": {
            "x": {"datum": -6.576, "scale": {"domain": [-6.576, 125.7], "nice": false, "zero": false}},
            "y": {"datum": 2.273, "scale": {"domain": [0.451, 2.273], "nice": false, "zero": false}},
            "y2": {"datum": -0.086}
          }
        },
        {
          "data": {"values": [{"f": "right"}]},
          "mark": {"type": "rule", "color": "#e0e3eb", "strokeWidth": 1},
          "encoding": {
            "x": {"datum": 130.6, "scale": {"domain": [-6.576, 125.7], "nice": false, "zero": false}},
            "y": {"datum": 2.273, "scale": {"domain": [0.451, 2.273], "nice": false, "zero": false}},
            "y2": {"datum": -0.086}
          }
        },
        {
          "data": {"values": [{"f": "bottom"}]},
          "mark": {"type": "rule", "color": "#e0e3eb", "strokeWidth": 1},
          "encoding": {
            "x": {"datum": -6.576, "scale": {"domain": [-6.576, 125.7], "nice": false, "zero": false}},
            "x2": {"datum": 130.6},
            "y": {"datum": -0.086, "scale": {"domain": [0.451, 2.273], "nice": false, "zero": false}}
          }
        },
        {
          "data": {"values": [{"t": "MACD (12, 26, close, 9, EMA, EMA)  1.496"}]},
          "mark": {"type": "text", "align": "left", "baseline": "alphabetic", "fontSize": 11.5, "color": "#131722"},
          "encoding": {
            "text": {"field": "t"},
            "x": {"datum": -5.91, "scale": {"domain": [-6.576, 125.7], "nice": false, "zero": false}},
            "y": {"datum": 1.89, "scale": {"domain": [0.451, 2.273], "nice": false, "zero": false}}
          }
        },
        {
          "data": {"values": [{"t": "1.641"}]},
          "mark": {"type": "text", "align": "left", "baseline": "alphabetic", "fontSize": 11.5, "color": "#b2b5be", "dx": 230.6},
          "encoding": {
            "text": {"field": "t"},
            "x": {"datum": -5.91, "scale": {"domain": [-6.576, 125.7], "nice": false, "zero": false}},
            "y": {"datum": 1.89, "scale": {"domain": [0.451, 2.273], "nice": false, "zero": false}}
          }
        },
        {
          "data": {"values": [{"v": 1.641}]},
          "mark": {"type": "rule", "strokeWidth": 16, "strokeCap": "butt", "color": "#b2b5be", "yOffset": -9},
          "encoding": {
            "x": {"datum": 126.0, "scale": {"domain": [-6.576, 125.7], "nice": false, "zero": false}},
            "x2": {"datum": 129.25},
            "y": {"field": "v", "type": "quantitative", "title": null, "scale": {"domain": [0.451, 2.273], "nice": false, "zero": false}}
          }
        },
        {
          "data": {"values": [{"v": 1.641}]},
          "mark": {"type": "text", "align": "center", "baseline": "middle", "fontSize": 11, "color": "#ffffff", "yOffset": -9},
          "encoding": {
            "x": {"datum": 127.6, "scale": {"domain": [-6.576, 125.7], "nice": false, "zero": false}},
            "y": {"field": "v", "type": "quantitative", "title": null, "scale": {"domain": [0.451, 2.273], "nice": false, "zero": false}},
            "text": {"field": "v", "type": "quantitative", "format": ".3f"}
          }
        },
        {
          "data": {"values": [{"v": 1.496}]},
          "mark": {"type": "rule", "strokeWidth": 16, "strokeCap": "butt", "color": "#131722"},
          "encoding": {
            "x": {"datum": 126.0, "scale": {"domain": [-6.576, 125.7], "nice": false, "zero": false}},
            "x2": {"datum": 129.25},
            "y": {"field": "v", "type": "quantitative", "title": null, "scale": {"domain": [0.451, 2.273], "nice": false, "zero": false}}
          }
        },
        {
          "data": {"values": [{"v": 1.496}]},
          "mark": {"type": "text", "align": "center", "baseline": "middle", "fontSize": 11, "color": "#ffffff"},
          "encoding": {
            "x": {"datum": 127.6, "scale": {"domain": [-6.576, 125.7], "nice": false, "zero": false}},
            "y": {"field": "v", "type": "quantitative", "title": null, "scale": {"domain": [0.451, 2.273], "nice": false, "zero": false}},
            "text": {"field": "v", "type": "quantitative", "format": ".3f"}
          }
        }
      ]
    }
  ]
}
